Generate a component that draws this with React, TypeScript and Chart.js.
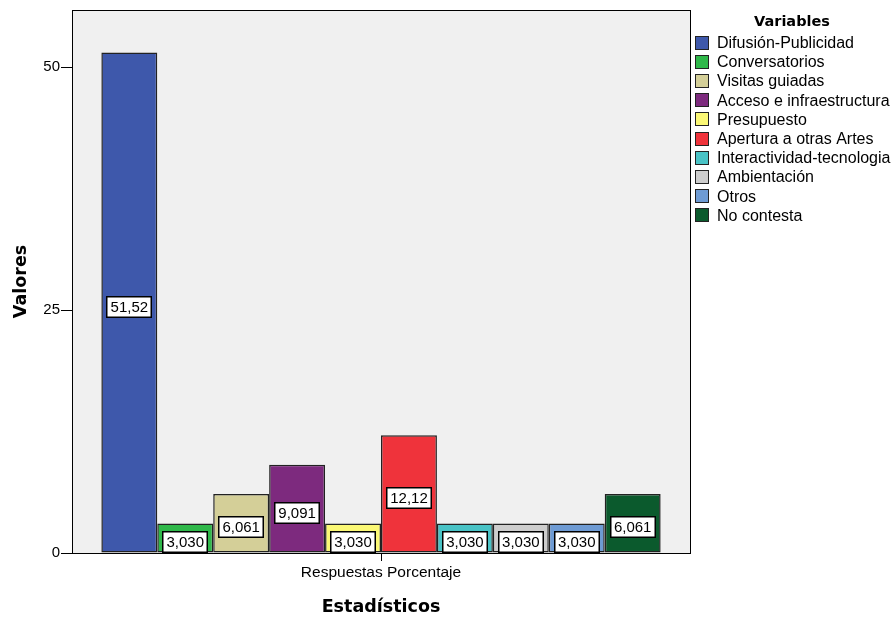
import React, { useEffect, useRef } from "react";
import { Chart, registerables } from "chart.js";

Chart.register(...registerables);

const categories = ["Respuestas Porcentaje"];
const seriesNames = [
  "Difusión-Publicidad",
  "Conversatorios",
  "Visitas guiadas",
  "Acceso e infraestructura",
  "Presupuesto",
  "Apertura a otras Artes",
  "Interactividad-tecnologia",
  "Ambientación",
  "Otros",
  "No contesta",
];
const seriesValues = [51.52, 3.03, 6.061, 9.091, 3.03, 12.12, 3.03, 3.03, 3.03, 6.061];
const seriesColors = [
  "#3e58ab",
  "#2fb84a",
  "#d4cf98",
  "#7d2a7e",
  "#fbf875",
  "#ef333b",
  "#49c3c6",
  "#cdcdcd",
  "#6e9bd4",
  "#0b5a2d",
];
const yTicks = [0, 25, 50];
const yMax = 55.9;
const legendTitle = "Variables";
const xTitle = "Estadísticos";
const yTitle = "Valores";

const fmt = (v: number) => v.toPrecision(4).replace(".", ",");

const plotBox = {
  id: "plotBox",
  beforeDraw(chart: any) {
    const { ctx, chartArea: a } = chart;
    ctx.save();
    ctx.fillStyle = "#f0f0f0";
    ctx.fillRect(a.left, a.top, a.right - a.left, a.bottom - a.top);
    ctx.restore();
  },
  afterDraw(chart: any) {
    const { ctx, chartArea: a } = chart;
    ctx.save();
    ctx.strokeStyle = "#000";
    ctx.lineWidth = 1;
    ctx.strokeRect(Math.round(a.left) + 0.5, Math.round(a.top) + 0.5, Math.round(a.right - a.left), Math.round(a.bottom - a.top));
    ctx.restore();
  },
};

const valueLabels = {
  id: "valueLabels",
  afterDatasetsDraw(chart: any) {
    const { ctx } = chart;
    ctx.save();
    ctx.font = "15px 'Liberation Sans', Arial, sans-serif";
    ctx.textAlign = "center";
    ctx.textBaseline = "middle";
    chart.data.datasets.forEach((ds: any, i: number) => {
      const meta = chart.getDatasetMeta(i);
      meta.data.forEach((bar: any, j: number) => {
        const v = ds.data[j];
        const txt = fmt(v);
        const w = Math.round(ctx.measureText(txt).width + 8);
        const h = 22;
        const cy = (bar.y + bar.base) / 2 + 4;
        let top = Math.round(cy - h / 2);
        if (top + h > bar.base) top = Math.round(bar.base - h);
        const left = Math.round(bar.x - w / 2);
        ctx.fillStyle = "#fff";
        ctx.fillRect(left, top, w, h);
        ctx.strokeStyle = "#000";
        ctx.lineWidth = 1.5;
        ctx.strokeRect(left + 0.75, top + 0.75, w - 1.5, h - 1.5);
        ctx.fillStyle = "#000";
        ctx.fillText(txt, bar.x, top + h / 2 + 1);
      });
    });
    ctx.restore();
  },
};

const sideLegend = {
  id: "sideLegend",
  afterDraw(chart: any) {
    const { ctx } = chart;
    const x0 = chart.chartArea.right + 5;
    ctx.save();
    ctx.fillStyle = "#000";
    ctx.textBaseline = "middle";
    ctx.textAlign = "center";
    ctx.font = "bold 14.5px 'DejaVu Sans', sans-serif";
    ctx.fillText(legendTitle, x0 + 97, 22);
    ctx.textAlign = "left";
    ctx.font = "16px 'Liberation Sans', Arial, sans-serif";
    chart.data.datasets.forEach((ds: any, i: number) => {
      const cy = 42.5 + i * 19.2;
      ctx.fillStyle = ds.backgroundColor;
      ctx.fillRect(x0, Math.round(cy - 7), 14, 14);
      ctx.strokeStyle = "#222";
      ctx.lineWidth = 1;
      ctx.strokeRect(x0 + 0.5, Math.round(cy - 7) + 0.5, 13, 13);
      ctx.fillStyle = "#000";
      ctx.fillText(ds.label, x0 + 22, cy + 1);
    });
    ctx.restore();
  },
};

export default function App() {
  const ref = useRef<HTMLCanvasElement | null>(null);
  useEffect(() => {
    if (!ref.current) return;
    const chart = new Chart(ref.current, {
      type: "bar",
      data: {
        labels: categories,
        datasets: seriesNames.map((name, i) => ({
          label: name,
          data: [seriesValues[i]],
          backgroundColor: seriesColors[i],
          borderColor: "#222",
          borderWidth: 1.5,
          borderSkipped: false,
          categoryPercentage: 0.905,
          barPercentage: 1,
        })),
      },
      options: {
        responsive: false,
        animation: false,
        layout: { padding: { left: 0, top: 8, right: 204, bottom: 0 } },
        plugins: { legend: { display: false }, tooltip: { enabled: false } },
        scales: {
          x: {
            grid: { offset: false, drawOnChartArea: false, drawTicks: true, tickLength: 8, color: "#000" },
            border: { display: true, color: "#000", width: 1 },
            ticks: { color: "#000", font: { family: "'Liberation Sans', Arial, sans-serif", size: 15.5 }, padding: 2 },
            title: {
              display: true,
              text: xTitle,
              color: "#000",
              font: { family: "'DejaVu Sans', sans-serif", size: 17.5, weight: "bold" },
              padding: { top: 0, bottom: 1 },
            },
            afterFit: (s: any) => {
              s.height = 66;
            },
          },
          y: {
            min: 0,
            max: yMax,
            grid: { drawOnChartArea: false, drawTicks: true, tickLength: 11, color: "#000" },
            border: { display: true, color: "#000", width: 1 },
            ticks: { color: "#000", font: { family: "'Liberation Sans', Arial, sans-serif", size: 15 }, padding: 1 },
            afterBuildTicks: (s: any) => {
              s.ticks = yTicks.map((v) => ({ value: v }));
            },
            title: {
              display: true,
              text: yTitle,
              color: "#000",
              font: { family: "'DejaVu Sans', sans-serif", size: 17.5, weight: "bold" },
              padding: { top: 11, bottom: 0 },
            },
            afterFit: (s: any) => {
              s.width = 72;
            },
          },
        },
      } as any,
      plugins: [plotBox, valueLabels, sideLegend],
    });
    return () => chart.destroy();
  }, []);
  return (
    <div style={{ position: "absolute", left: 0, top: 0, width: 894, height: 619, background: "#fff" }}>
      <canvas ref={ref} width={894} height={619} style={{ display: "block" }} />
    </div>
  );
}
